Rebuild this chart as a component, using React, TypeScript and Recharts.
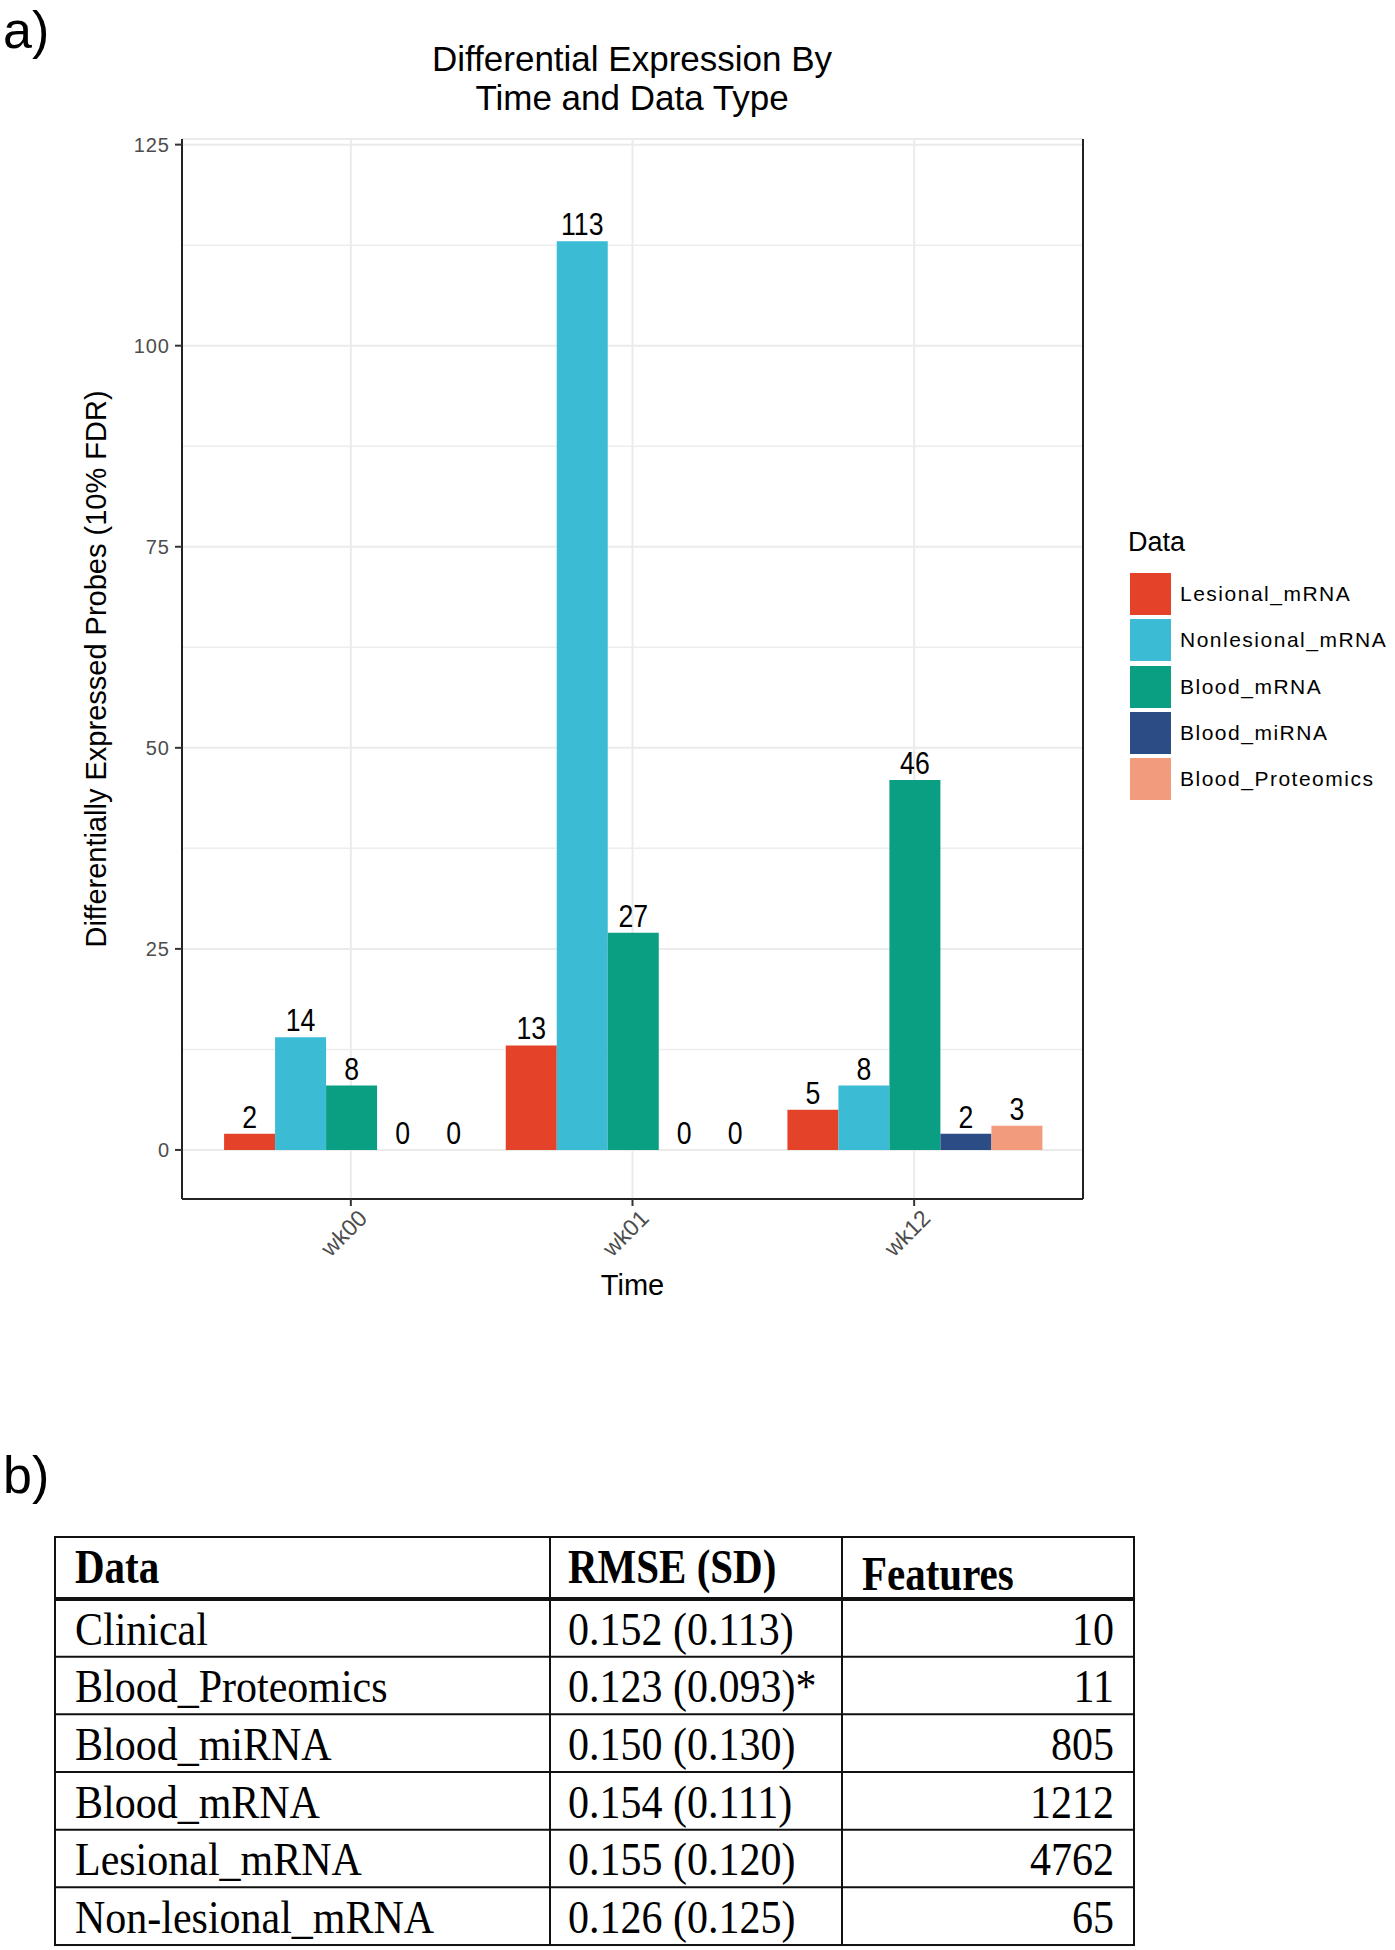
import React from 'react';
import { BarChart, Bar, XAxis, YAxis, CartesianGrid, LabelList, Legend, Cell } from 'recharts';

const times = ['wk00', 'wk01', 'wk12'];
const lesionalMrna = [2, 13, 5];
const nonlesionalMrna = [14, 113, 8];
const bloodMrna = [8, 27, 46];
const bloodMirna = [0, 0, 2];
const bloodProteomics = [0, 0, 3];

const seriesNames = ['Lesional_mRNA', 'Nonlesional_mRNA', 'Blood_mRNA', 'Blood_miRNA', 'Blood_Proteomics'];
const seriesValues = [lesionalMrna, nonlesionalMrna, bloodMrna, bloodMirna, bloodProteomics];
const seriesColors = ['#E5422A', '#3BBBD4', '#0A9E82', '#2C4C86', '#F39B7D'];

const yTicks = [0, 25, 50, 75, 100, 125];
const yMinorTicks = [12.5, 37.5, 62.5, 87.5, 112.5];

const tableNames = ['Clinical', 'Blood_Proteomics', 'Blood_miRNA', 'Blood_mRNA', 'Lesional_mRNA', 'Non-lesional_mRNA'];
const tableRmse = ['0.152 (0.113)', '0.123 (0.093)*', '0.150 (0.130)', '0.154 (0.111)', '0.155 (0.120)', '0.126 (0.125)'];
const tableFeatures = [10, 11, 805, 1212, 4762, 65];

const SANS = '"Liberation Sans", Arial, sans-serif';
const SERIF = '"Liberation Serif", "Times New Roman", serif';

const chartData = times.map((time, i) => {
  const row: Record<string, string | number> = { time };
  seriesNames.forEach((name, j) => {
    row[name] = seriesValues[j][i];
  });
  return row;
});

// zero-valued bars still need a rectangle so their "0" label gets drawn
const zeroBarSize = (value: any) => (Number(value) === 0 ? 0.01 : 0);

const ValueLabel = (props: any) => {
  const { x, y, width, height, value } = props;
  const cx = Number(x) + Number(width) / 2;
  const top = Math.min(Number(y), Number(y) + Number(height));
  const by = top - 6;
  return (
    <text transform={`translate(${cx},${by}) scale(0.86,1)`} textAnchor="middle" fontSize={31} fill="#000">
      {value}
    </text>
  );
};

const TimeTick = (props: any) => {
  const { x, y, payload } = props;
  return (
    <text
      transform={`translate(${Number(x) + 6},${Number(y)}) rotate(-45)`}
      textAnchor="end"
      dy="0.72em"
      fontSize={23}
      fill="#4D4D4D"
    >
      {payload.value}
    </text>
  );
};

const YTitle = () => (
  <text transform="translate(106,669) rotate(-90)" textAnchor="middle" fontSize={29} fill="#000">
    Differentially Expressed Probes (10% FDR)
  </text>
);

const LegendBox = () => (
  <div style={{ fontFamily: SANS, color: '#000' }}>
    <div style={{ fontSize: 27, lineHeight: '32px', marginBottom: 13, marginLeft: 3 }}>Data</div>
    {seriesNames.map((name, i) => (
      <div key={name} style={{ display: 'flex', alignItems: 'center', height: 46.25 }}>
        <div style={{ width: 41, height: 42, background: seriesColors[i], marginLeft: 5 }} />
        <span style={{ marginLeft: 9, fontSize: 21, letterSpacing: 1.5 }}>{name}</span>
      </div>
    ))}
  </div>
);

const headerTop = 1537;
const headerBottom = 1599;
const rowHeight = 57.67;
const tableLeft = 55;
const tableRight = 1134;
const colSeps = [550, 842];

export default function App() {
  const tableBottom = headerBottom + rowHeight * tableNames.length;
  return (
    <div style={{ position: 'absolute', left: 0, top: 0, width: 1395, height: 1950, background: '#fff', fontFamily: SANS }}>
      <div style={{ position: 'absolute', left: 0, top: 0 }}>
        <BarChart
          width={1395}
          height={1330}
          data={chartData}
          margin={{ top: 139, right: 311, bottom: 31, left: 112 }}
          barCategoryGap="5%"
          barGap={0}
        >
          <CartesianGrid vertical={false} horizontalValues={yMinorTicks} stroke="#EDEDED" strokeWidth={1.5} />
          <CartesianGrid stroke="#EBEBEB" strokeWidth={2} />
          <XAxis
            dataKey="time"
            padding={{ left: 28, right: 28 }}
            height={100}
            tickSize={7}
            tickLine={{ stroke: '#333', strokeWidth: 2 }}
            axisLine={{ stroke: '#222', strokeWidth: 2 }}
            tick={<TimeTick />}
            interval={0}
            label={{ value: 'Time', position: 'insideBottom', offset: 4, fontSize: 29, fill: '#000' }}
          />
          <YAxis
            width={70}
            domain={[-6.1, 125.7]}
            ticks={yTicks}
            allowDataOverflow
            tickSize={7}
            tickMargin={5}
            tickLine={{ stroke: '#333', strokeWidth: 2 }}
            axisLine={{ stroke: '#222', strokeWidth: 2 }}
            tick={{ fontSize: 20, fill: '#4D4D4D', letterSpacing: 1 }}
            label={<YTitle />}
          />
          <YAxis
            yAxisId="r"
            orientation="right"
            width={1}
            domain={[0, 1]}
            tick={false}
            tickLine={false}
            axisLine={{ stroke: '#222', strokeWidth: 2 }}
          />
          <Legend
            layout="vertical"
            align="center"
            verticalAlign="middle"
            wrapperStyle={{ left: 1125, top: 526, width: 268 }}
            content={<LegendBox />}
          />
          {seriesNames.map((name, i) => (
            <Bar
              key={name}
              dataKey={name}
              fill={seriesColors[i]}
              minPointSize={zeroBarSize}
              isAnimationActive={false}
            >
              {seriesValues[i].map((v, k) => (
                <Cell key={k} fill={seriesColors[i]} fillOpacity={v === 0 ? 0 : 1} />
              ))}
              <LabelList dataKey={name} content={<ValueLabel />} />
            </Bar>
          ))}
        </BarChart>
      </div>
      <svg
        width={1395}
        height={1950}
        style={{ position: 'absolute', left: 0, top: 0, pointerEvents: 'none' }}
      >
        <text x={3} y={48} fontSize={52} fill="#000" fontFamily={SANS}>a)</text>
        <text x={632} y={71} fontSize={35} textAnchor="middle" fill="#000" fontFamily={SANS}>
          Differential Expression By
        </text>
        <text x={632} y={110} fontSize={35} textAnchor="middle" fill="#000" fontFamily={SANS}>
          Time and Data Type
        </text>
        <text x={3} y={1493} fontSize={52} fill="#000" fontFamily={SANS}>b)</text>

        <g fontFamily={SERIF} fill="#000">
          <rect
            x={tableLeft}
            y={headerTop}
            width={tableRight - tableLeft}
            height={tableBottom - headerTop}
            fill="none"
            stroke="#111"
            strokeWidth={2}
          />
          <line x1={tableLeft} x2={tableRight} y1={headerBottom} y2={headerBottom} stroke="#111" strokeWidth={4} />
          {tableNames.slice(1).map((_, i) => (
            <line
              key={i}
              x1={tableLeft}
              x2={tableRight}
              y1={headerBottom + rowHeight * (i + 1)}
              y2={headerBottom + rowHeight * (i + 1)}
              stroke="#111"
              strokeWidth={2}
            />
          ))}
          {colSeps.map((x) => (
            <line key={x} x1={x} x2={x} y1={headerTop} y2={tableBottom} stroke="#111" strokeWidth={2} />
          ))}
          <text transform="translate(75,1583) scale(1,1.18)" fontSize={41} fontWeight="bold">Data</text>
          <text transform="translate(568,1583) scale(1,1.18)" fontSize={41} fontWeight="bold">RMSE (SD)</text>
          <text transform="translate(862,1590) scale(1,1.18)" fontSize={41} fontWeight="bold">Features</text>
          {tableNames.map((name, i) => {
            const base = headerBottom + rowHeight * i + 45.5;
            return (
              <g key={name}>
                <text transform={`translate(75,${base}) scale(1,1.13)`} fontSize={42}>{name}</text>
                <text transform={`translate(568,${base}) scale(1,1.13)`} fontSize={42}>{tableRmse[i]}</text>
                <text transform={`translate(1114,${base}) scale(1,1.13)`} fontSize={42} textAnchor="end">
                  {tableFeatures[i]}
                </text>
              </g>
            );
          })}
        </g>
      </svg>
    </div>
  );
}
